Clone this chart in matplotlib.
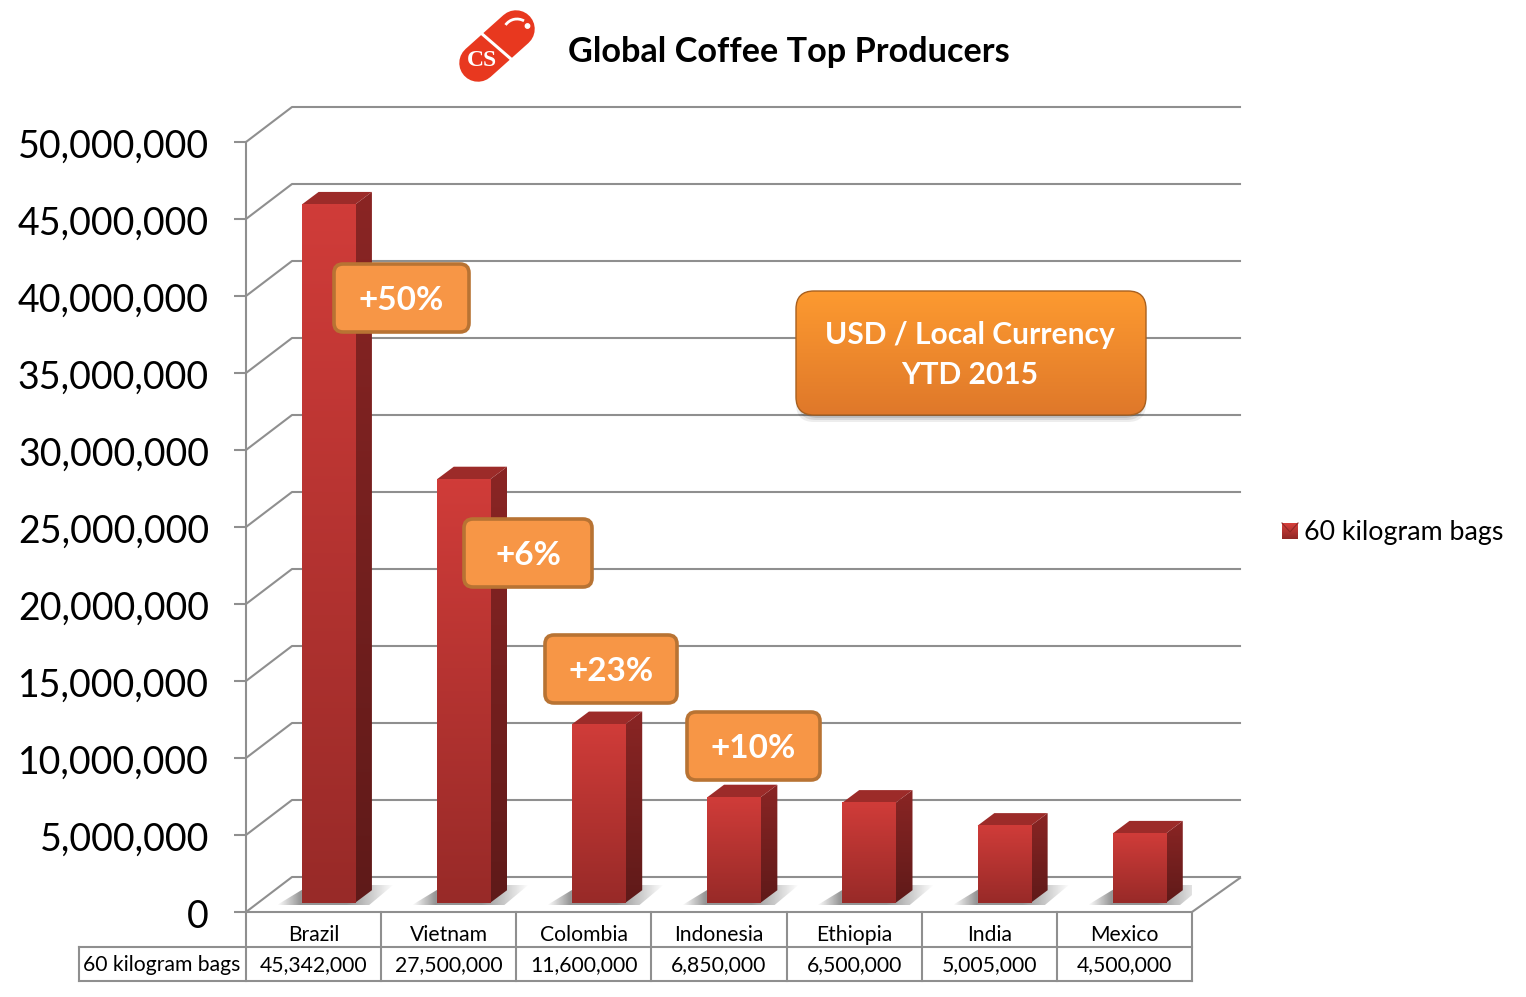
import matplotlib
matplotlib.use("Agg")
import matplotlib.pyplot as plt
import numpy as np
from matplotlib.colors import to_rgb
from matplotlib.patches import Circle, FancyBboxPatch, Polygon, Arc
from matplotlib.transforms import ScaledTranslation

countries = ["Brazil", "Vietnam", "Colombia", "Indonesia", "Ethiopia", "India", "Mexico"]
bags = [45342000, 27500000, 11600000, 6850000, 6500000, 5005000, 4500000]
y_ticks = [0, 5000000, 10000000, 15000000, 20000000, 25000000, 30000000, 35000000, 40000000, 45000000, 50000000]
series_name = "60 kilogram bags"
title = "Global Coffee Top Producers"
callout_labels = ["+50%", "+6%", "+23%", "+10%"]
note_lines = ["USD / Local Currency", "YTD 2015"]

W, H = 1526, 997
FONT = "Lato"
GRID = "#8f8f8f"

plt.rcParams["font.family"] = [FONT, "DejaVu Sans"]
fig = plt.figure(figsize=(W / 100, H / 100), dpi=100)

# main axes = front plane of the 3d chart
ax = fig.add_axes([246 / W, (H - 912) / H, (1192 - 246) / W, 770 / H])
ax.set_xlim(-0.5, 6.5)
ax.set_ylim(0, 50000000)
ax.patch.set_alpha(0)
for s in ["top", "right", "bottom"]:
    ax.spines[s].set_visible(False)
ax.spines["left"].set_color(GRID)
ax.spines["left"].set_linewidth(1.5)
ax.set_xticks([])
ax.set_yticks(y_ticks)
ax.set_yticklabels([f"{v:,}" for v in y_ticks], fontsize=27, color="black")
ax.tick_params(axis="y", length=8.6, width=1.5, color=GRID, pad=18)
ax.set_autoscale_on(False)
for lab in ax.get_yticklabels():
    lab.set_transform(lab.get_transform() + ScaledTranslation(0, -0.015, fig.dpi_scale_trans))

# pixel offsets in data units, for the fake depth
DX = 7 / 946
DY = 50000000 / 770


def clip_image(axis, im, clip):
    # clip_on has to be back on or the clip path is ignored
    axis.add_patch(clip)
    clip.set_visible(False)
    im.set_clip_path(clip)
    im.set_clip_on(True)


def gradient(axis, x0, x1, y0, y1, top, bottom, clip=None, zorder=3):
    c = np.linspace(to_rgb(top), to_rgb(bottom), 128).reshape(128, 1, 3)
    im = axis.imshow(c, extent=[x0, x1, y0, y1], origin="upper", aspect="auto",
                     interpolation="bilinear", zorder=zorder, clip_on=False)
    if clip is not None:
        clip_image(axis, im, clip)
    return im


# walls and floor lines
for v in y_ticks:
    ax.plot([-0.5, -0.5 + 46 * DX, 6.5 + 48 * DX], [v, v + 35 * DY, v + 35 * DY],
            color=GRID, lw=1.5, clip_on=False, zorder=1)
ax.plot([-0.5, 6.5, 6.5 + 48 * DX], [0, 0, 34 * DY], color=GRID, lw=1.5, clip_on=False, zorder=1)

# bars
bar_w = 53.3 * DX
for i, v in enumerate(bags):
    x0 = i - bar_w / 2 + 15 * DX
    x1 = x0 + bar_w
    y0 = 9.3 * DY
    y1 = y0 + v
    sx, sy = 16.7 * DX, 12.5 * DY

    # floor shadow
    rgba = np.zeros((1, 128, 4))
    rgba[..., :3] = 0.45
    ramp = np.concatenate([np.linspace(0, 1, 26), np.linspace(1, 1, 50), np.linspace(1, 0, 52)])
    rgba[..., 3] = ramp * 0.75
    shx0, shx1 = x0 - 25 * DX, x1 + 38 * DX
    im = ax.imshow(rgba, extent=[shx0, shx1, 7 * DY, 27 * DY], aspect="auto",
                   interpolation="bilinear", zorder=2, clip_on=False)
    clip_image(ax, im, Polygon([[shx0, 7 * DY], [x1 + 14 * DX, 7 * DY], [shx1, 27 * DY], [x0 + 8 * DX, 27 * DY]],
                               transform=ax.transData))

    # side, top, front
    side = Polygon([[x1, y0], [x1 + sx, y0 + sy], [x1 + sx, y1 + sy], [x1, y1]], transform=ax.transData)
    gradient(ax, x1, x1 + sx, y0, y1 + sy, "#8a2524", "#5f1a19", side)
    ax.add_patch(Polygon([[x0, y1], [x1, y1], [x1 + sx, y1 + sy], [x0 + sx, y1 + sy]],
                         facecolor="#9c2b29", edgecolor="none", zorder=4, clip_on=False))
    gradient(ax, x0, x1, y0, y1, "#d03c39", "#982a28", zorder=5)

# pixel overlay for logo, callouts, table and legend
ov = fig.add_axes([0, 0, 1, 1])
ov.set_xlim(0, W)
ov.set_ylim(H, 0)
ov.axis("off")
ov.patch.set_alpha(0)
ov.set_autoscale_on(False)

# logo
ov.plot([478, 516], [63, 29], color="#e8381f", lw=27, solid_capstyle="round")
ov.plot([481, 511], [33, 59], color="white", lw=2.2)
ov.add_patch(Arc((517, 33), 28, 28, angle=0, theta1=215, theta2=300, color="white", lw=2, zorder=3))
ov.add_patch(Circle((527.5, 26), 2.2, color="white", zorder=3))
ov.text(482, 61, "CS", family="Liberation Serif", fontweight="bold", fontsize=17, color="white",
        ha="center", va="center", zorder=3)

ov.text(788.5, 52, title, fontsize=24.7, fontweight="bold", color="black", ha="center", va="center")

# callouts
callout_boxes = [(334, 264, 135, 68), (464, 519, 128, 68), (545, 635, 132, 68), (687, 712, 133, 68)]
for (bx, by, bw, bh), label in zip(callout_boxes, callout_labels):
    ov.add_patch(FancyBboxPatch((bx + 9, by + 9), bw - 18, bh - 18, boxstyle="round,pad=9,rounding_size=9",
                                facecolor="#f79646", edgecolor="#b87333", lw=2.6, zorder=6,
                                mutation_aspect=1))
    ov.text(bx + bw / 2, by + bh / 2 + 2, label, color="white", fontsize=24, fontweight="bold",
            ha="center", va="center", zorder=7)

# note box with a soft drop shadow
for pad, alpha in [(18, 0.07), (16, 0.09), (14, 0.11), (12, 0.13)]:
    ov.add_patch(FancyBboxPatch((814, 316), 314, 88, boxstyle=f"round,pad={pad},rounding_size=18",
                                facecolor="#000000", alpha=alpha, edgecolor="none", zorder=5))
note_clip = FancyBboxPatch((814, 309), 314, 88, boxstyle="round,pad=18,rounding_size=18",
                           transform=ov.transData)
gradient(ov, 796, 1146, 415, 291, "#fd9a30", "#df782a", note_clip, zorder=6)
ov.add_patch(FancyBboxPatch((814, 309), 314, 88, boxstyle="round,pad=18,rounding_size=18",
                            facecolor="none", edgecolor="#a8601f", lw=1, zorder=6))
ov.text(970, 335, note_lines[0], color="white", fontsize=21.6, fontweight="bold", ha="center", va="center", zorder=7)
ov.text(970, 375, note_lines[1], color="white", fontsize=21.6, fontweight="bold", ha="center", va="center", zorder=7)

# data table
col_w = (1192 - 246) / len(countries)
for k in range(len(countries) + 1):
    xp = 246 + k * col_w
    ov.plot([xp, xp], [912, 981], color=GRID, lw=1.5, zorder=1)
ov.plot([79, 79], [947, 981], color=GRID, lw=1.5)
ov.plot([79, 1192], [947, 947], color=GRID, lw=1.5)
ov.plot([79, 1192], [981, 981], color=GRID, lw=1.5)
ov.text(162, 965, series_name, fontsize=15.2, color="black", ha="center", va="center")
for k, (name, v) in enumerate(zip(countries, bags)):
    xc = 246 + (k + 0.5) * col_w
    ov.text(xc, 935, name, fontsize=15.2, color="black", ha="center", va="center")
    ov.text(xc, 965, f"{v:,}", fontsize=15.2, color="black", ha="center", va="center")

# legend
gradient(ov, 1282, 1298, 539, 523, "#d8403c", "#8f2826", zorder=3)
ov.plot([1282, 1290, 1298], [523, 532, 523], color="#8f2826", lw=0.8, zorder=4)
ov.text(1304, 532, series_name, fontsize=19.3, color="black", ha="left", va="center")

fig.savefig("out.png", dpi=100, facecolor="white")
